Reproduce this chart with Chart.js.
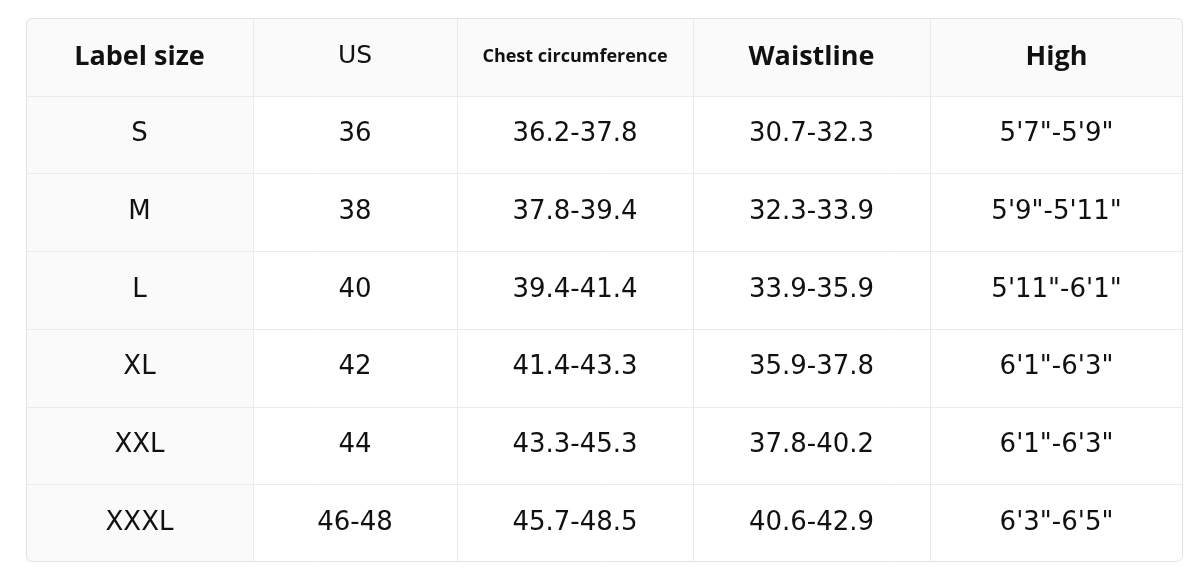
<!DOCTYPE html>
<html>
<head>
<meta charset="utf-8">
<script src="https://cdn.jsdelivr.net/npm/chart.js@4.4.0/dist/chart.umd.min.js"></script>
<style>
  html, body { margin: 0; padding: 0; background: #fff; }
  #wrap { width: 1200px; height: 585px; }
</style>
</head>
<body>
<div id="wrap"><canvas id="sizeChart"></canvas></div>
<script>
// table data
const headers = ['Label size', 'US', 'Chest circumference', 'Waistline', 'High']
const sizes = ['S', 'M', 'L', 'XL', 'XXL', 'XXXL']
const us = ['36', '38', '40', '42', '44', '46-48']
const chest = ['36.2-37.8', '37.8-39.4', '39.4-41.4', '41.4-43.3', '43.3-45.3', '45.7-48.5']
const waist = ['30.7-32.3', '32.3-33.9', '33.9-35.9', '35.9-37.8', '37.8-40.2', '40.6-42.9']
const high = ['5\'7"-5\'9"', '5\'9"-5\'11"', '5\'11"-6\'1"', '6\'1"-6\'3"', '6\'1"-6\'3"', '6\'3"-6\'5"']

// column edges (x axis units)
const colEdges = [0, 227, 431, 667, 904, 1157]

/***************************** table plugin *****************************/
const tablePlugin = {
	id: 'tablePlugin',
	afterDraw(chart) {
		const ctx = chart.ctx
		const xs = chart.scales.x
		const ys = chart.scales.y
		const cols = [sizes, us, chest, waist, high]
		const nRows = sizes.length + 1
		const L = xs.getPixelForValue(0), R = xs.getPixelForValue(colEdges[5])
		const T = ys.getPixelForValue(0), B = ys.getPixelForValue(nRows)

		ctx.save()
		// backgrounds
		ctx.fillStyle = '#fafafa'
		ctx.fillRect(L, T, R - L, ys.getPixelForValue(1) - T)
		ctx.fillRect(L, T, xs.getPixelForValue(colEdges[1]) - L, B - T)

		// grid lines
		ctx.strokeStyle = '#ebebeb'
		ctx.lineWidth = 1
		for (let c = 1; c < colEdges.length - 1; c++) {
			const x = Math.round(xs.getPixelForValue(colEdges[c])) + 0.5
			ctx.beginPath(); ctx.moveTo(x, T); ctx.lineTo(x, B); ctx.stroke()
		}
		for (let r = 1; r < nRows; r++) {
			const y = Math.round(ys.getPixelForValue(r)) + 0.5
			ctx.beginPath(); ctx.moveTo(L, y); ctx.lineTo(R, y); ctx.stroke()
		}
		// outer border
		ctx.strokeStyle = '#e2e2e2'
		ctx.beginPath()
		ctx.roundRect(L + 0.5, T + 0.5, R - L - 1, B - T - 1, 6)
		ctx.stroke()

		// text
		ctx.textAlign = 'center'
		ctx.textBaseline = 'middle'
		ctx.fillStyle = '#111'
		for (let c = 0; c < headers.length; c++) {
			const cx = xs.getPixelForValue((colEdges[c] + colEdges[c + 1]) / 2)
			const hy = ys.getPixelForValue(0.5)
			if (c === 1) ctx.font = '25px "DejaVu Sans"'
			else if (c === 2) ctx.font = 'bold 18px "Open Sans"'
			else ctx.font = 'bold 27px "Open Sans"'
			ctx.fillText(headers[c], cx, hy)
			ctx.font = '26px "DejaVu Sans"'
			for (let r = 0; r < cols[c].length; r++) {
				ctx.fillText(cols[c][r], cx, ys.getPixelForValue(r + 1.5))
			}
		}
		ctx.restore()
	}
}

var chartArea = document.getElementById('sizeChart').getContext('2d')
var sizeChart = new Chart(chartArea, {
	type: 'scatter',
	data: { datasets: [{ data: [] }] },
	options: {
		responsive: true,
		maintainAspectRatio: false,
		animation: false,
		layout: { padding: { left: 26, right: 17, top: 18, bottom: 23 } },
		plugins: { legend: { display: false }, tooltip: { enabled: false } },
		scales: {
			x: { type: 'linear', display: false, min: 0, max: colEdges[5] },
			y: { type: 'linear', display: false, min: 0, max: sizes.length + 1, reverse: true }
		}
	},
	plugins: [tablePlugin]
})
</script>
</body>
</html>
